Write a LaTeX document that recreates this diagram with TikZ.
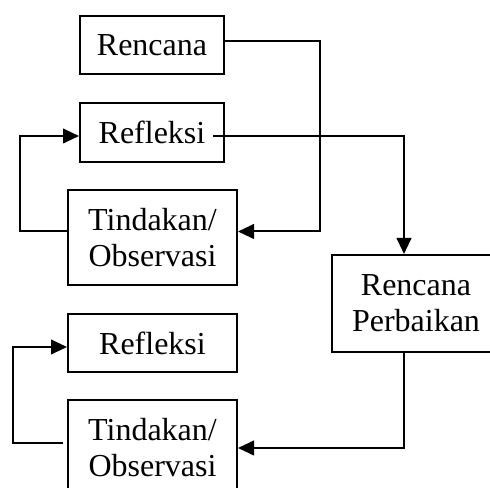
\documentclass[tikz,border=0pt]{standalone}
\usepackage{fontspec}
\setmainfont{Liberation Serif}
\usetikzlibrary{arrows.meta}
\tikzset{
  box/.style={draw, line width=1.5pt, inner sep=0pt, align=center,
    font=\fontsize{24}{27}\selectfont},
  narrowbox/.style={box, minimum width=108pt, minimum height=44pt},
  widebox/.style={box, minimum width=126.75pt},
  arr/.style={line width=1.5pt, -{Triangle[length=12pt,width=11pt]}},
}
\begin{document}
\begin{tikzpicture}[x=0.75pt,y=-0.75pt]
\clip (0,0) rectangle (490,488);
\fill[white] (0,0) rectangle (490,488);

% first cycle
\node[narrowbox] (ren)  at (152,45)    {Rencana};
\node[narrowbox] (ref1) at (152,132.5) {Refleksi};
\node[widebox, minimum height=71.25pt] (tin1) at (152.5,237.5) {Tindakan/\\Observasi};

% revised plan
\node[widebox, minimum height=72.75pt, minimum width=126pt] (rp) at (416,303.5) {Rencana\\Perbaikan};

% second cycle
\node[widebox, minimum height=43.5pt] (ref2) at (152.5,343) {Refleksi};
\node[widebox, minimum height=71.25pt] (tin2) at (152.5,447.5) {Tindakan/\\Observasi};

% bend points
\coordinate (b1)  at (320,231.5);
\coordinate (b2)  at (404,136);
\coordinate (b3)  at (404,448);
\coordinate (lp1) at (20,136);
\coordinate (lp2) at (13,347);
\coordinate (s2)  at (63,443);

% plan -> action
\draw[arr] ([yshift=3pt]ren.east) -| (b1) -- (b1 -| tin1.east);
% reflection -> revised plan
\draw[arr] ([xshift=-9pt,yshift=-2.6pt]ref1.east) -| (b2 |- rp.north);
% action -> reflection (first cycle)
\draw[arr] ([xshift=1.5pt,yshift=4.5pt]tin1.west) -| (lp1) -- (lp1 -| ref1.west);
% revised plan -> action
\draw[arr] (b3 |- rp.south) -- (b3) -- (b3 -| tin2.east);
% action -> reflection (second cycle)
\draw[arr] (s2) -| (lp2) -- (lp2 -| ref2.west);
\end{tikzpicture}
\end{document}
